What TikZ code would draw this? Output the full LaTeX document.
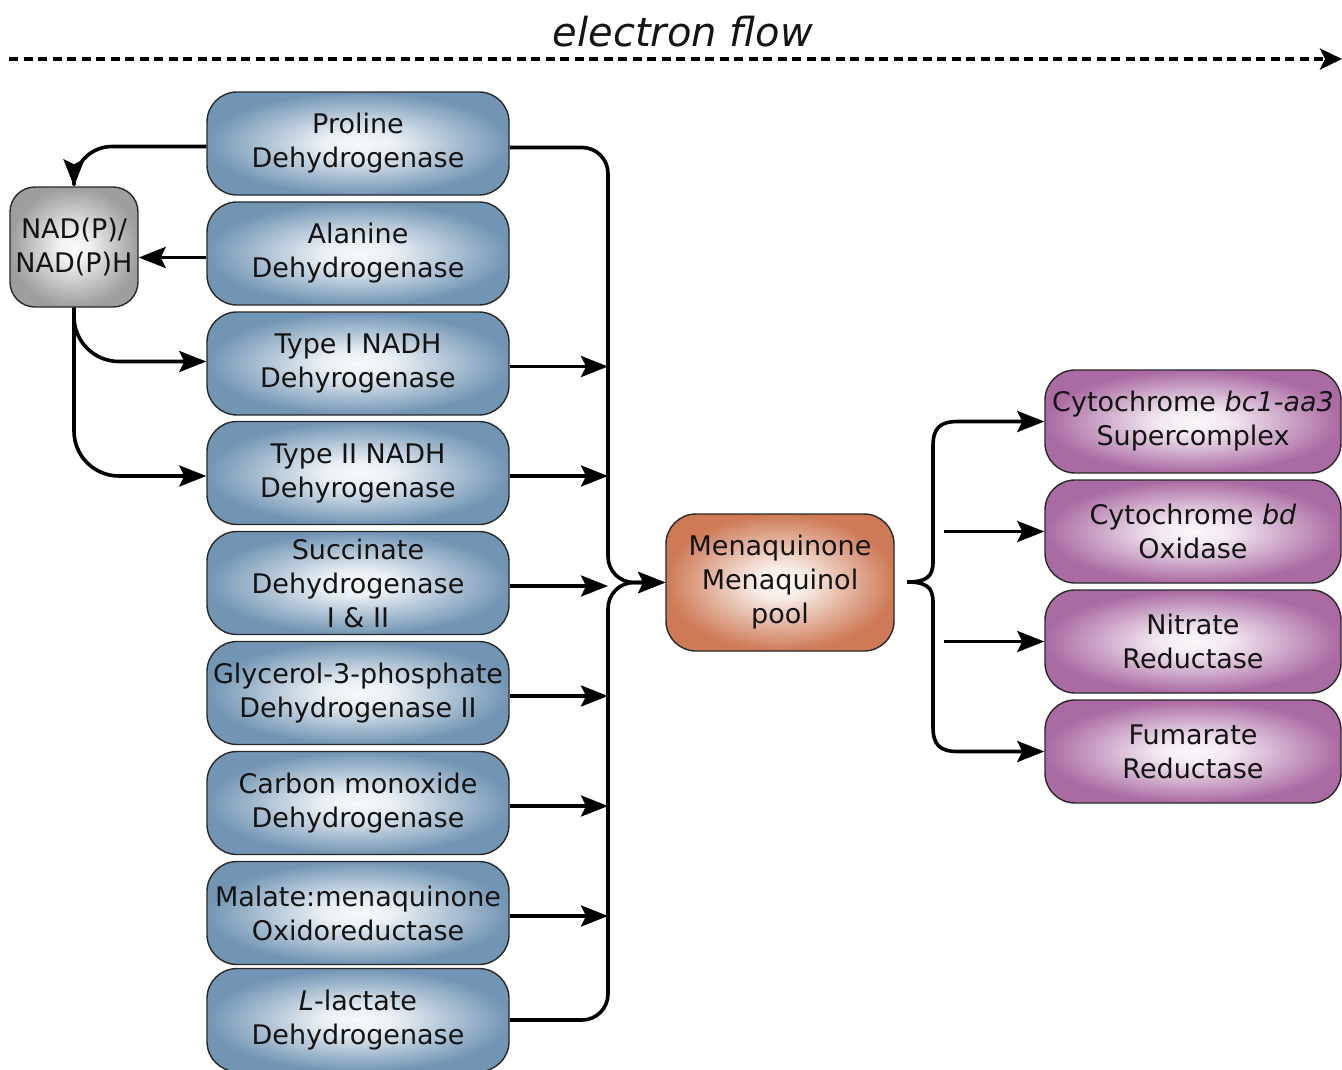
\documentclass[tikz,border=0pt]{standalone}
\usepackage{fontspec}
\setmainfont{DejaVu Sans}
\usetikzlibrary{arrows.meta,calc}
\definecolor{blueE}{RGB}{114,149,180}
\definecolor{purpE}{RGB}{170,106,162}
\definecolor{orngE}{RGB}{206,122,86}
\definecolor{grayE}{RGB}{158,158,158}
\definecolor{bordercol}{RGB}{40,40,40}
\pgfdeclareradialshading{blueshade}{\pgfpoint{0bp}{0bp}}{color(0bp)=(white!95!blueE); color(6bp)=(white!85!blueE); color(25bp)=(blueE); color(50bp)=(blueE)}
\pgfdeclareradialshading{purpshade}{\pgfpoint{0bp}{0bp}}{color(0bp)=(white!95!purpE); color(6bp)=(white!85!purpE); color(25bp)=(purpE); color(50bp)=(purpE)}
\pgfdeclareradialshading{orngshade}{\pgfpoint{0bp}{0bp}}{color(0bp)=(white!95!orngE); color(6bp)=(white!85!orngE); color(25bp)=(orngE); color(50bp)=(orngE)}
\pgfdeclareradialshading{grayshade}{\pgfpoint{0bp}{0bp}}{color(0bp)=(white!95!grayE); color(6bp)=(white!85!grayE); color(25bp)=(grayE); color(50bp)=(grayE)}
\tikzset{
  box/.style={draw=bordercol, line width=1.4pt, rounded corners=30pt, align=center, inner sep=0pt, text=black!92,
    font=\fontsize{27}{34}\selectfont},
  bluebox/.style={box, shading=blueshade, minimum width=302pt, minimum height=103pt},
  purpbox/.style={box, shading=purpshade, minimum width=296pt, minimum height=103pt},
  mqbox/.style={box, shading=orngshade, minimum width=228pt, minimum height=137pt},
  nadbox/.style={box, shading=grayshade, minimum width=128pt, minimum height=120pt, rounded corners=25pt},
  conn/.style={line width=3.6pt, line join=round, -{Stealth[length=27pt,width=21pt,inset=5pt]}},
  flowline/.style={line width=3.6pt, dash pattern=on 9pt off 5.5pt, -{Stealth[length=22pt,width=21pt,inset=5pt]}},
}
\begin{document}
\begin{tikzpicture}[x=1pt,y=-1pt]
\useasboundingbox (0,0) rectangle (1342,1069);
% title
\node[font=\fontsize{40}{48}\selectfont\itshape, text=black!92] (title) at (683,32) {electron flow};
\coordinate (ef1) at (9,59);
\coordinate (ef2) at (1342,59);
\draw[flowline] (ef1) -- (ef2);
% left column
\node[bluebox] (pro) at (358,143.5) {Proline\\Dehydrogenase};
\node[bluebox] (ala) at (358,253.5) {Alanine\\Dehydrogenase};
\node[bluebox] (t1) at (358,363.5) {Type I NADH\\Dehyrogenase};
\node[bluebox] (t2) at (358,473) {Type II NADH\\Dehyrogenase};
\node[bluebox] (suc) at (358,583) {Succinate\\Dehydrogenase\\I \& II};
\node[bluebox] (gly) at (358,693) {Glycerol-3-phosphate\\Dehydrogenase II};
\node[bluebox] (co) at (358,803) {Carbon monoxide\\Dehydrogenase};
\node[bluebox] (mal) at (358,913) {Malate:menaquinone\\Oxidoreductase};
\node[bluebox] (lac) at (358,1020) {\textit{L}-lactate\\Dehydrogenase};
% NAD
\node[nadbox] (nad) at (74,247) {NAD(P)/\\NAD(P)H};
% pool
\node[mqbox] (mq) at (780,582.5) {Menaquinone\\Menaquinol\\pool};
% right column
\node[purpbox] (c1) at (1193,421.5) {Cytochrome \textit{bc1-aa3}\\Supercomplex};
\node[purpbox] (c2) at (1193,531.5) {Cytochrome \textit{bd}\\Oxidase};
\node[purpbox] (c3) at (1193,641.5) {Nitrate\\Reductase};
\node[purpbox] (c4) at (1193,751.5) {Fumarate\\Reductase};
% NAD connectors
\draw[conn, rounded corners=38pt] ([yshift=-3pt]pro.west) -| (nad.north);
\draw[conn] ([yshift=-4pt]ala.west) -- ([yshift=-4pt]ala.west -| nad.east);
\draw[conn, rounded corners=45pt] (nad.south) |- ([yshift=2pt]t1.west);
\draw[conn, rounded corners=45pt] (nad.south) |- ([yshift=-3pt]t2.west);
% bus
\coordinate (bx) at (608,0);
\draw[conn, rounded corners=26pt] ([yshift=-4pt]pro.east) -- ([yshift=-4pt]pro.east -| bx) -- (bx |- mq.west) -- (mq.west);
\draw[conn, rounded corners=26pt] (lac.east) -- (lac.east -| bx) -- (bx |- mq.west) -- (mq.west);
\foreach \n in {t1,t2,suc,gly,co,mal}{
  \draw[conn] ([yshift=-3pt]\n.east) -- ([yshift=-3pt]\n.east -| bx);
}
% brace
\coordinate (btip) at (907,582);
\coordinate (mx) at (944,0);
\draw[conn] (btip) .. controls (926,582) and (933,577) .. (933,562)
  -- (933,446) .. controls (933,428) and (940,421.5) .. (958,421.5) -- (c1.west);
\draw[conn] (btip) .. controls (926,582) and (933,587) .. (933,602)
  -- (933,727) .. controls (933,745) and (940,751.5) .. (958,751.5) -- (c4.west);
\draw[conn] (c2.west -| mx) -- (c2.west);
\draw[conn] (c3.west -| mx) -- (c3.west);
\end{tikzpicture}
\end{document}
